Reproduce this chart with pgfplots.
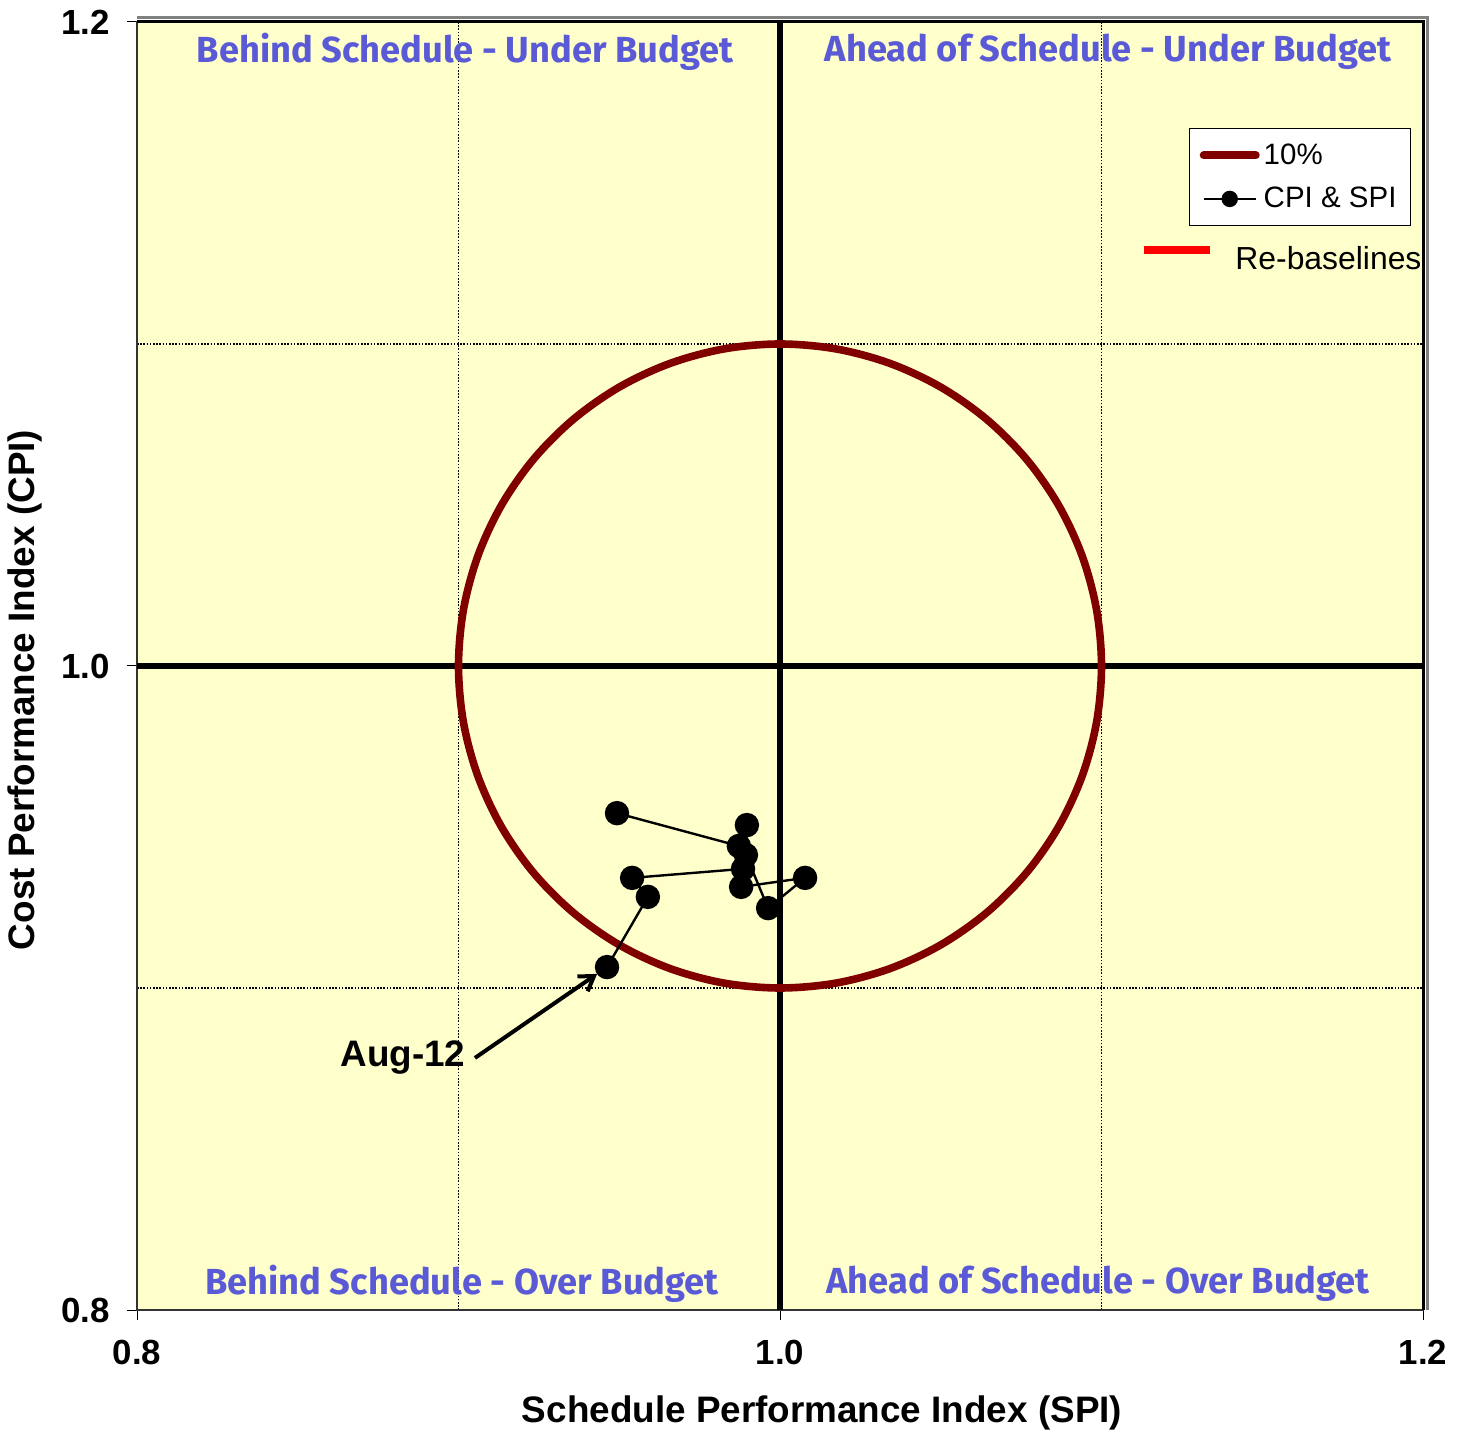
\documentclass[border=0pt]{standalone}
\usepackage{pgfplots}
\pgfplotsset{compat=1.18}
\usepackage{pgfplotstable}
\usepackage{fontspec}
\setmainfont{Liberation Sans}
\newfontfamily\quadfont{Fira Sans}
\usetikzlibrary{arrows.meta}
\definecolor{bgyellow}{HTML}{FFFFCC}
\definecolor{darkred}{HTML}{800000}
\definecolor{quadblue}{HTML}{5A5AD7}

\pgfplotstableread{
x y
1.1 1.0
1.098481 1.017365
1.093969 1.034202
1.086603 1.05
1.076604 1.064279
1.064279 1.076604
1.05 1.086603
1.034202 1.093969
1.017365 1.098481
1.0 1.1
0.982635 1.098481
0.965798 1.093969
0.95 1.086603
0.935721 1.076604
0.923396 1.064279
0.913397 1.05
0.906031 1.034202
0.901519 1.017365
0.9 1.0
0.901519 0.982635
0.906031 0.965798
0.913397 0.95
0.923396 0.935721
0.935721 0.923396
0.95 0.913397
0.965798 0.906031
0.982635 0.901519
1.0 0.9
1.017365 0.901519
1.034202 0.906031
1.05 0.913397
1.064279 0.923396
1.076604 0.935721
1.086603 0.95
1.093969 0.965798
1.098481 0.982635
}\circdata

\pgfplotstableread{
spi cpi
0.9493 0.9543
0.9872 0.9441
0.9897 0.9506
0.9894 0.9413
0.9963 0.9248
1.0078 0.9342
0.9879 0.9314
0.9885 0.9370
0.9540 0.9342
0.9589 0.9283
0.9462 0.9065
}\evmdata

\begin{document}
\begin{tikzpicture}
\begin{axis}[
  scale only axis, width=643bp, height=644bp,
  at={(68.5bp,63.5bp)}, anchor=south west,
  xmin=0.8, xmax=1.2, ymin=0.8, ymax=1.2,
  xtick={0.8,1.0,1.2}, ytick={0.8,1.0,1.2},
  minor xtick={0.9,1.1}, minor ytick={0.9,1.1},
  xminorgrids, yminorgrids,
  minor grid style={black, line width=0.6bp, dash pattern=on 0.8bp off 0.8bp},
  minor tick length=0pt,
  tick align=outside, major tick length=5bp,
  tick style={black, line width=0.5bp},
  xtick pos=bottom, ytick pos=left,
  axis background/.style={fill=bgyellow},
  axis line style={black!80, line width=0.8bp},
  /pgf/number format/assume math mode=true,
  /pgf/number format/.cd, fixed, fixed zerofill, precision=1, /pgfplots/.cd,
  ticklabel style={font=\fontsize{17.5}{20}\selectfont\bfseries},
  yticklabel style={xshift=-5bp},
  xticklabel style={yshift=-6.5bp},
  xlabel={Schedule Performance Index (SPI)},
  ylabel={Cost Performance Index (CPI)},
  label style={font=\fontsize{18.5}{21}\selectfont\bfseries},
  xlabel style={at={(axis description cs:0.5327,-0.0800)}, anchor=center},
  ylabel style={at={(axis description cs:-0.0871,0.4814)}, anchor=center, rotate=0},
  legend cell align=left,
  legend style={at={(0.9907,0.9177)}, anchor=north east, draw=black, line width=0.6bp,
    fill=white, font=\fontsize{14.8}{17}\selectfont, inner xsep=5bp, inner ysep=5.5bp,
    row sep=6bp, /tikz/every even column/.append style={column sep=2bp}},
  clip=false,
]
\addplot[black, line width=3.3bp, forget plot] coordinates {(1.0,0.8) (1.0,1.2)};
\addplot[black, line width=3.3bp, forget plot] coordinates {(0.8,1.0) (1.2,1.0)};
\addplot[darkred, line width=3.8bp, smooth cycle, tension=0.55,
  legend image code/.code={\draw[darkred, line width=4bp, line cap=round] (0bp,0bp) -- (26bp,0bp);}]
  table[x=x, y=y] {\circdata};
\addlegendentry{10\%}
\addplot[black, line width=1.2bp, mark=*, mark size=5.5bp, mark options={fill=black},
  legend image code/.code={\draw[black, line width=1bp] (0bp,0bp) -- (26bp,0bp); \fill[black] (13bp,0bp) circle (3.5bp);}]
  table[x=spi, y=cpi] {\evmdata};
\addlegendentry{CPI \& SPI}

% 3D frame shading (top and right)
\draw[black, line width=1.5bp] (rel axis cs:0,1) -- (rel axis cs:1,1) -- (rel axis cs:1,0);
\draw[gray, line width=1.8bp] ([yshift=2.2bp]rel axis cs:0,1) -- ([xshift=2.2bp,yshift=2.2bp]rel axis cs:1,1) -- ([xshift=2.2bp]rel axis cs:1,0);

% quadrant labels
\begin{scope}[every node/.style={font=\quadfont\bfseries\fontsize{18.2}{21}\selectfont, text=quadblue}]
\node at (rel axis cs:0.2551,0.9770) {Behind Schedule - Under Budget};
\node at (rel axis cs:0.7551,0.9770) {Ahead of Schedule - Under Budget};
\node at (rel axis cs:0.2527,0.0205) {Behind Schedule - Over Budget};
\node at (rel axis cs:0.7473,0.0205) {Ahead of Schedule - Over Budget};
\end{scope}

% annotation
\node[font=\fontsize{18.5}{21}\selectfont\bfseries] at (rel axis cs:0.2068,0.1957) {Aug-12};
\draw[black, line width=2bp, -{Straight Barb[length=7bp, width=9bp]}, shorten >=6bp]
  (rel axis cs:0.2628,0.1957) -- (axis cs:0.9462,0.9065);

% re-baselines key
\draw[red, line width=4bp] (rel axis cs:0.7830,0.8230) -- (rel axis cs:0.8344,0.8230);
\node[anchor=west, inner sep=0pt, font=\fontsize{16}{18}\selectfont] at (rel axis cs:0.8538,0.8168) {Re-baselines};
\end{axis}
\pgfresetboundingbox
\useasboundingbox (0,0) rectangle (733.5bp,718.5bp);
\end{tikzpicture}
\end{document}
